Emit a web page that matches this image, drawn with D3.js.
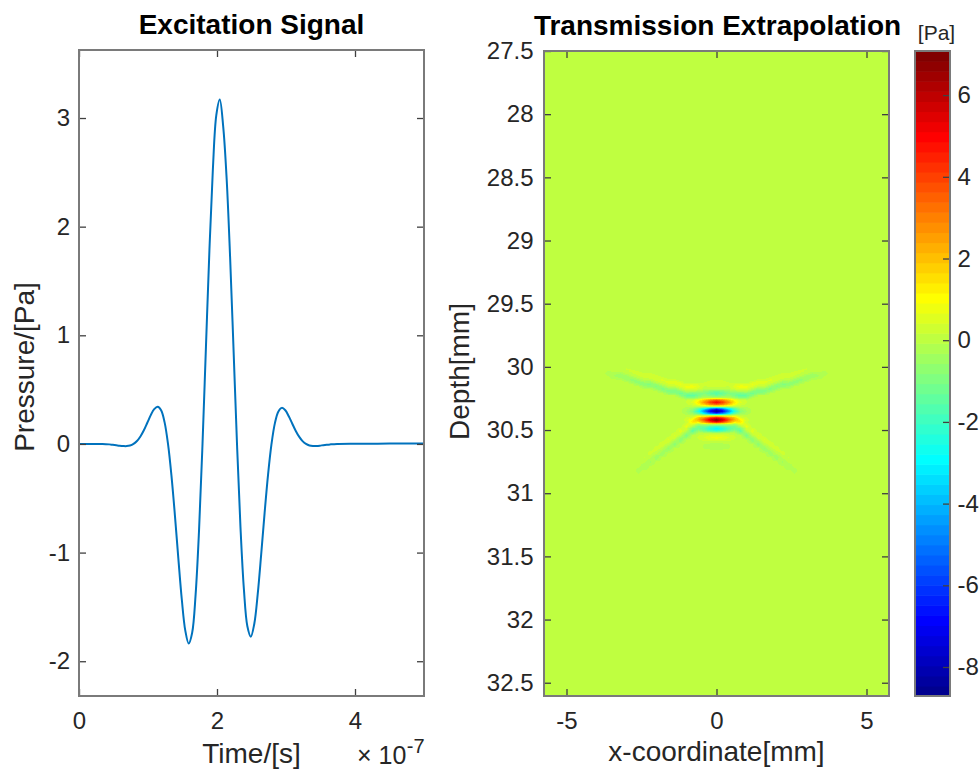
<!DOCTYPE html>
<html><head><meta charset="utf-8">
<script src="https://cdn.jsdelivr.net/npm/d3@7/dist/d3.min.js"></script>
<style>
html,body{margin:0;padding:0;background:#fff;}
svg{display:block;font-family:"Liberation Sans",Arial,Helvetica,sans-serif;}
</style></head><body>
<svg id="chart" width="980" height="769"></svg>
<script>
// ================= DATA =================
// Excitation signal (time in units of 1e-7 s, pressure in Pa)
const signalTime = [0, 0.2, 0.34, 0.39, 0.44, 0.49, 0.54, 0.59, 0.64, 0.69, 0.74, 0.79, 0.84, 0.89, 0.94, 0.99, 1.04, 1.09, 1.14, 1.19, 1.24, 1.29, 1.34, 1.39, 1.44, 1.49, 1.54, 1.59, 1.64, 1.69, 1.74, 1.79, 1.84, 1.89, 1.94, 1.99, 2.04, 2.09, 2.14, 2.19, 2.24, 2.29, 2.34, 2.39, 2.44, 2.49, 2.54, 2.59, 2.64, 2.69, 2.74, 2.79, 2.84, 2.89, 2.94, 2.99, 3.04, 3.09, 3.14, 3.19, 3.24, 3.29, 3.34, 3.39, 3.44, 3.49, 3.54, 3.59, 3.64, 3.74, 4.0, 4.5, 5.0];
const signalPressure = [0, 0, -0.001, -0.002, -0.004, -0.008, -0.012, -0.016, -0.019, -0.020, -0.015, 0.000, 0.027, 0.069, 0.126, 0.195, 0.265, 0.321, 0.343, 0.310, 0.201, 0.000, -0.292, -0.657, -1.055, -1.432, -1.716, -1.837, -1.738, -1.387, -0.791, 0.000, 0.896, 1.780, 2.526, 3.026, 3.170, 2.921, 2.438, 1.718, 0.865, 0.000, -0.763, -1.339, -1.678, -1.774, -1.657, -1.383, -1.019, -0.634, -0.282, 0.000, 0.194, 0.299, 0.332, 0.310, 0.255, 0.188, 0.122, 0.067, 0.026, 0.000, -0.014, -0.019, -0.019, -0.016, -0.011, -0.007, -0.004, 0.000, 0.002, 0.003, 0.003];
const timeDomain = [0, 5];
const timeTicks = [0, 2, 4];
const pressureDomain = [-2.32, 3.626];
const pressureTicks = [-2, -1, 0, 1, 2, 3];

// Transmission extrapolation field (x in mm, depth in mm, value in Pa)
const fieldX = [-3.6,-3.4,-3.2,-3.0,-2.8,-2.6,-2.4,-2.2,-2.0,-1.8,-1.6,-1.4,-1.2,-1.0,-0.8,-0.6,-0.4,-0.2,0,0.2,0.4,0.6,0.8,1.0,1.2,1.4,1.6,1.8,2.0,2.2,2.4,2.6,2.8,3.0,3.2,3.4,3.6];
const fieldDepth = [30.0000,30.0175,30.0350,30.0525,30.0700,30.0875,30.1050,30.1225,30.1400,30.1575,30.1750,30.1925,30.2100,30.2275,30.2450,30.2625,30.2800,30.2975,30.3150,30.3325,30.3500,30.3675,30.3850,30.4025,30.4200,30.4375,30.4550,30.4725,30.4900,30.5075,30.5250,30.5425,30.5600,30.5775,30.5950,30.6125,30.6300,30.6475,30.6650,30.6825,30.7000,30.7175,30.7350,30.7525,30.7700,30.7875,30.8050,30.8225,30.8400];
const fieldValues = [
[0,.1,.15,.12, 0,0,0,0,0, 0,0,0,0,0, 0,0,0,0, 0, 0,0,0,0,0, 0,0,0,0,0, 0,0,0,0, .12,.15,.1,0],
[0,0,.09,.2,.15, 0,0,0,0,0, 0,0,0,0,0, 0,0,0, 0, 0,0,0,0,0, 0,0,0,0,0, 0,0,0, .15,.2,.09,0,0],
[-.1,0,0,.12,.25,.18, 0,0,0,0,0, 0,0,0,0,0, 0,0, 0, 0,0,0,0,0, 0,0,0,0,0, 0,0, .18,.25,.12,0,0,-.1],
[-.15,-.23,-.33,0,.15,.3,.21,.24, 0,0,0,0,0, 0,0,0,0,0, 0, 0,0,0,0,0, 0,0,0,0,0, .24,.21,.3,.15,0,-.33,-.23,-.15],
[-.1,-.35,-.5,-.39,0,.18,.35,.4,.27, 0,0,0,0,0, 0,0,0,0, 0, 0,0,0,0,0, 0,0,0,0, .27,.4,.35,.18,0,-.39,-.5,-.35,-.1],
[0,-.23,-.33,-.6,-.46,0,.21,.24,.45,.3, 0,0,0,0,0, 0,0,0, 0, 0,0,0,0,0, 0,0,0, .3,.45,.24,.21,0,-.46,-.6,-.33,-.23,0],
[0,0,0,-.39,-.7,-.49,0,0,.27,.5,.33,.36,0,0,0,0,.11,.16, .2, .16,.11,0,0,0,0,.36,.33,.5,.27,0,0,-.49,-.7,-.39,0,0,0],
[0,0,0,0,-.46,-.75,-.52,-.55,0,.3,.55,.6,.42,0,0,0,.17,.25, .3, .25,.17,0,0,0,.42,.6,.55,.3,0,-.55,-.52,-.75,-.46,0,0,0,0],
[0,0,0,0,0,-.49,-.8,-.85,-.59,0,.33,.36,.7,.48,.54,.41,.22,.33, .4, .33,.22,.41,.54,.48,.7,.36,.33,0,-.59,-.85,-.8,-.49,0,0,0,0,0],
[0,0,0,0,0,0,-.52,-.55,-.9,-.62,0,0,.42,.8,.9,.5,.14,.2, .25, .2,.14,.5,.9,.8,.42,0,0,-.62,-.9,-.55,-.52,0,0,0,0,0,0],
[0,0,0,0,0,0,0,0,-.59,-.95,-.65,-.72,0,.48,.54,.3,0,0, 0, 0,0,.3,.54,.48,0,-.72,-.65,-.95,-.59,0,0,0,0,0,0,0,0],
[0,0,0,0,0,0,0,0,0,-.62,-1,-1.1,-.78,0,-.11,-.31,-.61,-.9, -1.1, -.9,-.61,-.31,-.11,0,-.78,-1.1,-1,-.62,0,0,0,0,0,0,0,0,0],
[0,0,0,0,0,0,0,0,0,0,-.65,-.72,-1.2,-.85,-1.07,-.91,-.88,-1.31, -1.6, -1.31,-.88,-.91,-1.07,-.85,-1.2,-.72,-.65,0,0,0,0,0,0,0,0,0,0],
[0,0,0,0,0,0,0,0,0,0,0,0,-.78,-1.3,-1.51,-1.01,-.61,-.9, -1.1, -.9,-.61,-1.01,-1.51,-1.3,-.78,0,0,0,0,0,0,0,0,0,0,0,0],
[0,0,0,0,0,0,0,0,0,0,0,0,0,-.85,-.91,-.46,0,0, 0, 0,0,-.46,-.91,-.85,0,0,0,0,0,0,0,0,0,0,0,0,0],
[0,0,0,0,0, 0,0,0,0,0, 0,0,0, .14,.35,.98,1.93,2.87, 3.5, 2.87,1.93,.98,.35,.14, 0,0,0,0,0, 0,0,0,0,0, 0,0,0],
[0,0,0,0,0, 0,0,0,0,0, 0,0,0, .2,.5,1.4,2.75,4.1, 5, 4.1,2.75,1.4,.5,.2, 0,0,0,0,0, 0,0,0,0,0, 0,0,0],
[0,0,0,0,0, 0,0,0,0,0, 0,0,0, .14,.35,.98,1.93,2.87, 3.5, 2.87,1.93,.98,.35,.14, 0,0,0,0,0, 0,0,0,0,0, 0,0,0],
[0,0,0,0,0, 0,0,0,0,0, 0,0,0,0,0, 0,0,0, 0, 0,0,0,0,0, 0,0,0,0,0, 0,0,0,0,0, 0,0,0],
[0,0,0,0,0, 0,0,0,0,0, 0,0,0, -.24,-.61,-1.71,-3.36,-5, -6.1, -5,-3.36,-1.71,-.61,-.24, 0,0,0,0,0, 0,0,0,0,0, 0,0,0],
[0,0,0,0,0, 0,0,0,0,0, 0,0,0, -.35,-.87,-2.44,-4.79,-7.14, -8.71, -7.14,-4.79,-2.44,-.87,-.35, 0,0,0,0,0, 0,0,0,0,0, 0,0,0],
[0,0,0,0,0, 0,0,0,0,0, 0,0,0, -.24,-.61,-1.71,-3.36,-5, -6.1, -5,-3.36,-1.71,-.61,-.24, 0,0,0,0,0, 0,0,0,0,0, 0,0,0],
[0,0,0,0,0, 0,0,0,0,0, 0,0,0,0,0, .36,0,0, 0, 0,0,.36, 0,0,0,0,0, 0,0,0,0,0, 0,0,0,0,0],
[0,0,0,0,0, 0,0,0,0,0, 0,0,0, .2,.5,2,2.75,4.1, 5, 4.1,2.75,2,.5,.2, 0,0,0,0,0, 0,0,0,0,0, 0,0,0],
[0,0,0,0,0, 0,0,0,0,0, 0,0,0, .28,1.25,2.34,3.89,5.81, 7.08, 5.81,3.89,2.34,1.25,.28, 0,0,0,0,0, 0,0,0,0,0, 0,0,0],
[0,0,0,0,0, 0,0,0,0,0, 0,0,0, .2,1.4,1.4,2.75,4.1, 5, 4.1,2.75,1.4,1.4,.2, 0,0,0,0,0, 0,0,0,0,0, 0,0,0],
[0,0,0,0,0, 0,0,0,0,0, 0,0,0, .42,.54,-.39,0,0, 0, 0,0,-.39,.54,.42, 0,0,0,0,0, 0,0,0,0,0, 0,0,0],
[0,0,0,0,0, 0,0,0,0,0, 0,0,0, .7,-.21,-1.19,-1.16,-1.72, -2.1, -1.72,-1.16,-1.19,-.21,.7, 0,0,0,0,0, 0,0,0,0,0, 0,0,0],
[0,0,0,0,0, 0,0,0,0,0, 0,0, .36,.3,-1.15,-1.23,-1.65,-2.46, -3, -2.46,-1.65,-1.23,-1.15,.3,.36, 0,0,0,0,0, 0,0,0,0,0, 0,0],
[0,0,0,0,0, 0,0,0,0,0, 0,0, .6,0,-1.51,-.59,-1.16,-1.72, -2.1, -1.72,-1.16,-.59,-1.51,0,.6, 0,0,0,0,0, 0,0,0,0,0, 0,0],
[0,0,0,0,0, 0,0,0,0,0, 0, .3,.36,-.65,-.85,0,0,0, 0, 0,0,0,-.85,-.65,.36,.3, 0,0,0,0,0, 0,0,0,0,0, 0],
[0,0,0,0,0, 0,0,0,0,0, 0, .5,0,-1,0,.15,.3,.45, .55, .45,.3,.15,0,-1,0,.5, 0,0,0,0,0, 0,0,0,0,0, 0],
[0,0,0,0,0, 0,0,0,0,0, .27,.3,-.55,-.65,.08,.22,.44,.66, .8, .66,.44,.22,.08,-.65,-.55,.3,.27, 0,0,0,0,0, 0,0,0,0,0],
[0,0,0,0,0, 0,0,0,0,0, .45,0,-.85,0,0,.15,.3,.45, .55, .45,.3,.15,0,0,-.85,0,.45, 0,0,0,0,0, 0,0,0,0,0],
[0,0,0,0,0, 0,0,0,0, .24,.27,-.49,-.55,0,0,0,0,0, 0, 0,0,0,0,0,-.55,-.49,.27,.24, 0,0,0,0,0, 0,0,0,0],
[0,0,0,0,0, 0,0,0,0, .4,0,-.75,0,0,0,0,-.08,-.12, -.15, -.12,-.08,0,0,0,0,-.75,0,.4, 0,0,0,0,0, 0,0,0,0],
[0,0,0,0,0, 0,0,0, .21,.24,-.42,-.49,0,0,0,0,-.11,-.16, -.2, -.16,-.11,0,0,0,0,-.49,-.42,.24,.21, 0,0,0,0,0, 0,0,0],
[0,0,0,0,0, 0,0,0, .35,0,-.65,0,0,0,0,0,-.08,-.12, -.15, -.12,-.08,0,0,0,0,0,-.65,0,.35, 0,0,0,0,0, 0,0,0],
[0,0,0,0,0, 0,0, .18,.21,-.36,-.42,0,0,0,0,0,0,0, 0, 0,0,0,0,0,0,0,-.42,-.36,.21,.18, 0,0,0,0,0, 0,0],
[0,0,0,0,0, 0,0, .3,0,-.55,0,0,0,0,0,0,0,0, 0, 0,0,0,0,0,0,0,0,-.55,0,.3, 0,0,0,0,0, 0,0],
[0,0,0,0,0, 0, .12,.18,-.33,-.36,0,0,0,0,0,0,0,0, 0, 0,0,0,0,0,0,0,0,-.36,-.33,.18,.12, 0,0,0,0,0, 0],
[0,0,0,0,0, 0, .2,0,-.5,0,0,0,0,0,0,0,0,0, 0, 0,0,0,0,0,0,0,0,0,-.5,0,.2, 0,0,0,0,0, 0],
[0,0,0,0,0, .06,.12,-.26,-.33,0,0,0,0,0,0,0,0,0, 0, 0,0,0,0,0,0,0,0,0,-.33,-.26,.12,.06, 0,0,0,0,0],
[0,0,0,0,0, .1,0,-.4,0,0,0,0,0,0,0,0,0,0, 0, 0,0,0,0,0,0,0,0,0,0,-.4,0,.1, 0,0,0,0,0],
[0,0,0,0,0, .06,-.2,-.26,0,0,0,0,0,0,0,0,0,0, 0, 0,0,0,0,0,0,0,0,0,0,-.26,-.2,.06, 0,0,0,0,0],
[0,0,0,0,0, 0, -.3, 0,0,0,0,0, 0,0,0,0,0, 0, 0, 0,0,0,0,0, 0,0,0,0,0, 0, -.3, 0,0,0,0,0, 0],
[0,0,0,0,0, -.1,-.2, 0,0,0,0,0, 0,0,0,0,0, 0, 0, 0,0,0,0,0, 0,0,0,0,0, 0, -.2,-.1, 0,0,0,0,0],
[0,0,0,0,0, -.15, 0,0,0,0,0, 0,0,0,0,0, 0,0, 0, 0,0,0,0,0, 0,0,0,0,0, 0,0, -.15, 0,0,0,0,0],
[0,0,0,0,0, -.1, 0,0,0,0,0, 0,0,0,0,0, 0,0, 0, 0,0,0,0,0, 0,0,0,0,0, 0,0, -.1, 0,0,0,0,0]
];
const xCoordDomain = [-5.75, 5.75];
const xCoordTicks = [-5, 0, 5];
const depthDomain = [27.5, 32.605];
const depthTicks = [27.5, 28, 28.5, 29, 29.5, 30, 30.5, 31, 31.5, 32, 32.5];
const colorLimits = [-8.71, 7.08];
const colorTicks = [-8, -6, -4, -2, 0, 2, 4, 6];

// sanity checks
if (signalTime.length !== signalPressure.length) throw new Error("signal length mismatch " + signalTime.length + " " + signalPressure.length);
if (fieldValues.length !== fieldDepth.length) throw new Error("field rows " + fieldValues.length);
fieldValues.forEach((r, i) => { if (r.length !== fieldX.length) throw new Error("row " + i + " has " + r.length); });

// ================= LAYOUT =================
const FONT = '"Liberation Sans",Arial,Helvetica,sans-serif';
const TICK_FS = 24, LABEL_FS = 28, TITLE_FS = 28;
const TXT = "#262626", BOX = "#7a7a7a", TICKC = "#404040";
const L = {x0: 79, x1: 424, y0: 50, y1: 696};
const R = {x0: 544, x1: 889, y0: 51, y1: 696};
const CB = {x0: 915, x1: 950, y0: 51, y1: 696};

const svg = d3.select("#chart");
svg.append("rect").attr("width", 980).attr("height", 769).attr("fill", "#fff");

// MATLAB-style jet colormap (64 levels)
function jet(m) {
  const n = Math.ceil(m / 4), u = [];
  for (let i = 1; i <= n; i++) u.push(i / n);
  for (let i = 1; i <= n - 1; i++) u.push(1);
  for (let i = n; i >= 1; i--) u.push(i / n);
  const g0 = Math.ceil(n / 2) - (m % 4 === 1 ? 1 : 0);
  const J = d3.range(m).map(() => [0, 0, 0]);
  u.forEach((val, k) => {
    const g = g0 + k + 1, r = g + n, b = g - n;
    if (r >= 1 && r <= m) J[r - 1][0] = val;
    if (g >= 1 && g <= m) J[g - 1][1] = val;
    if (b >= 1 && b <= m) J[b - 1][2] = val;
  });
  return J;
}
const jetMap = jet(64);
const colorIndex = d3.scaleQuantize().domain(colorLimits).range(d3.range(64));
const rgbOf = c => `rgb(${Math.round(c[0]*255)},${Math.round(c[1]*255)},${Math.round(c[2]*255)})`;

function styleAxis(g) {
  g.select(".domain").remove();
  g.attr("font-family", FONT).attr("font-size", TICK_FS);
  g.selectAll(".tick line").attr("stroke", TICKC).attr("stroke-width", 1.3);
  g.selectAll(".tick text").attr("fill", TXT);
}
const fmt = d => String(d);

// ================= LEFT: Excitation Signal =================
const xL = d3.scaleLinear().domain(timeDomain).range([L.x0, L.x1]);
const yL = d3.scaleLinear().domain(pressureDomain).range([L.y1, L.y0]);

svg.append("clipPath").attr("id", "clipL").append("rect")
  .attr("x", L.x0).attr("y", L.y0).attr("width", L.x1 - L.x0).attr("height", L.y1 - L.y0);

const line = d3.line().x(d => xL(d[0])).y(d => yL(d[1])).curve(d3.curveCatmullRom.alpha(0.5));
svg.append("path")
  .datum(signalTime.map((t, i) => [t, signalPressure[i]]))
  .attr("clip-path", "url(#clipL)")
  .attr("d", line).attr("fill", "none").attr("stroke", "#0072BD").attr("stroke-width", 2);

svg.append("g").attr("transform", `translate(0,${L.y1})`)
  .call(d3.axisBottom(xL).tickValues(timeTicks).tickSizeInner(-7).tickSizeOuter(0).tickPadding(15.5).tickFormat(fmt)).call(styleAxis);
svg.append("g").attr("transform", `translate(0,${L.y0})`)
  .call(d3.axisTop(xL).tickValues(timeTicks).tickSizeInner(-7).tickSizeOuter(0).tickFormat("")).call(styleAxis);
svg.append("g").attr("transform", `translate(${L.x0},0)`)
  .call(d3.axisLeft(yL).tickValues(pressureTicks).tickSizeInner(-7).tickSizeOuter(0).tickPadding(9).tickFormat(fmt)).call(styleAxis);
svg.append("g").attr("transform", `translate(${L.x1},0)`)
  .call(d3.axisRight(yL).tickValues(pressureTicks).tickSizeInner(-7).tickSizeOuter(0).tickFormat("")).call(styleAxis);
svg.append("rect").attr("x", L.x0).attr("y", L.y0).attr("width", L.x1 - L.x0).attr("height", L.y1 - L.y0)
  .attr("fill", "none").attr("stroke", BOX).attr("stroke-width", 2);

svg.append("text").attr("x", (L.x0 + L.x1) / 2).attr("y", 33.5).attr("text-anchor", "middle")
  .attr("font-family", FONT).attr("font-size", TITLE_FS).attr("font-weight", "bold").attr("fill", "#000")
  .text("Excitation Signal");
svg.append("text").attr("x", (L.x0 + L.x1) / 2).attr("y", 762.5).attr("text-anchor", "middle")
  .attr("font-family", FONT).attr("font-size", LABEL_FS).attr("fill", TXT).text("Time/[s]");
svg.append("text").attr("transform", `translate(34,${(L.y0 + L.y1) / 2 - 6}) rotate(-90)`).attr("text-anchor", "middle")
  .attr("font-family", FONT).attr("font-size", LABEL_FS).attr("fill", TXT).text("Pressure/[Pa]");
const expT = svg.append("text").attr("x", 357).attr("y", 763.5).attr("font-family", FONT).attr("font-size", 25).attr("fill", TXT).text("\u00d7 10");
const expW = expT.node().getComputedTextLength();
svg.append("text").attr("x", 357 + expW + 0.5).attr("y", 752.5).attr("font-family", FONT).attr("font-size", 20).attr("fill", TXT).text("-7");

// ================= RIGHT: Transmission Extrapolation =================
const xR = d3.scaleLinear().domain(xCoordDomain).range([R.x0, R.x1]);
const yR = d3.scaleLinear().domain(depthDomain).range([R.y0, R.y1]);

(function drawField() {
  const W = R.x1 - R.x0, H = R.y1 - R.y0;
  const canvas = document.createElement("canvas");
  canvas.width = W; canvas.height = H;
  const ctx = canvas.getContext("2d");
  const img = ctx.createImageData(W, H);
  const nx = fieldX.length, ny = fieldDepth.length;
  const dxg = fieldX[1] - fieldX[0], dyg = fieldDepth[1] - fieldDepth[0];
  const cell = (i, j) => (i < 0 || i >= ny || j < 0 || j >= nx) ? 0 : fieldValues[i][j];
  function sample(xm, ym) {
    const fj = (xm - fieldX[0]) / dxg, fi = (ym - fieldDepth[0]) / dyg;
    if (fj <= -1 || fj >= nx || fi <= -1 || fi >= ny) return 0;
    const j0 = Math.floor(fj), i0 = Math.floor(fi), tx = fj - j0, ty = fi - i0;
    return (1 - ty) * ((1 - tx) * cell(i0, j0) + tx * cell(i0, j0 + 1)) +
           ty * ((1 - tx) * cell(i0 + 1, j0) + tx * cell(i0 + 1, j0 + 1));
  }
  let k = 0;
  for (let py = 0; py < H; py++) {
    const ym = yR.invert(R.y0 + py + 0.5);
    for (let px = 0; px < W; px++) {
      const xm = xR.invert(R.x0 + px + 0.5);
      const c = jetMap[colorIndex(sample(xm, ym))];
      img.data[k++] = Math.round(c[0] * 255);
      img.data[k++] = Math.round(c[1] * 255);
      img.data[k++] = Math.round(c[2] * 255);
      img.data[k++] = 255;
    }
  }
  ctx.putImageData(img, 0, 0);
  svg.append("image").attr("x", R.x0).attr("y", R.y0).attr("width", W).attr("height", H)
    .attr("preserveAspectRatio", "none").attr("href", canvas.toDataURL("image/png"));
})();

svg.append("g").attr("transform", `translate(0,${R.y1})`)
  .call(d3.axisBottom(xR).tickValues(xCoordTicks).tickSizeInner(-7).tickSizeOuter(0).tickPadding(15.5).tickFormat(fmt)).call(styleAxis);
svg.append("g").attr("transform", `translate(0,${R.y0})`)
  .call(d3.axisTop(xR).tickValues(xCoordTicks).tickSizeInner(-7).tickSizeOuter(0).tickFormat("")).call(styleAxis);
svg.append("g").attr("transform", `translate(${R.x0},0)`)
  .call(d3.axisLeft(yR).tickValues(depthTicks).tickSizeInner(-7).tickSizeOuter(0).tickPadding(10.5).tickFormat(fmt)).call(styleAxis);
svg.append("g").attr("transform", `translate(${R.x1},0)`)
  .call(d3.axisRight(yR).tickValues(depthTicks).tickSizeInner(-7).tickSizeOuter(0).tickFormat("")).call(styleAxis);
svg.append("rect").attr("x", R.x0).attr("y", R.y0).attr("width", R.x1 - R.x0).attr("height", R.y1 - R.y0)
  .attr("fill", "none").attr("stroke", BOX).attr("stroke-width", 2);

svg.append("text").attr("x", (R.x0 + R.x1) / 2 + 1).attr("y", 35).attr("text-anchor", "middle")
  .attr("font-family", FONT).attr("font-size", TITLE_FS).attr("font-weight", "bold").attr("fill", "#000")
  .text("Transmission Extrapolation");
svg.append("text").attr("x", (R.x0 + R.x1) / 2).attr("y", 761).attr("text-anchor", "middle")
  .attr("font-family", FONT).attr("font-size", LABEL_FS).attr("fill", TXT).text("x-coordinate[mm]");
svg.append("text").attr("transform", `translate(469,${(R.y0 + R.y1) / 2 - 2}) rotate(-90)`).attr("text-anchor", "middle")
  .attr("font-family", FONT).attr("font-size", LABEL_FS).attr("fill", TXT).text("Depth[mm]");

// ================= COLORBAR =================
const cS = d3.scaleLinear().domain(colorLimits).range([CB.y1, CB.y0]);
const step = (colorLimits[1] - colorLimits[0]) / jetMap.length;
svg.append("g").selectAll("rect").data(jetMap).join("rect")
  .attr("x", CB.x0).attr("width", CB.x1 - CB.x0)
  .attr("y", (d, i) => cS(colorLimits[0] + (i + 1) * step))
  .attr("height", (d, i) => cS(colorLimits[0] + i * step) - cS(colorLimits[0] + (i + 1) * step) + 0.6)
  .attr("fill", d => rgbOf(d));
svg.append("g").attr("transform", `translate(${CB.x1},0)`)
  .call(d3.axisRight(cS).tickValues(colorTicks).tickSizeInner(-7).tickSizeOuter(0).tickPadding(7.5).tickFormat(fmt)).call(styleAxis);
svg.append("rect").attr("x", CB.x0).attr("y", CB.y0).attr("width", CB.x1 - CB.x0).attr("height", CB.y1 - CB.y0)
  .attr("fill", "none").attr("stroke", BOX).attr("stroke-width", 2);
svg.append("text").attr("x", 936.5).attr("y", 40).attr("text-anchor", "middle")
  .attr("font-family", FONT).attr("font-size", 21).attr("fill", TXT).text("[Pa]");
</script>
</body></html>
